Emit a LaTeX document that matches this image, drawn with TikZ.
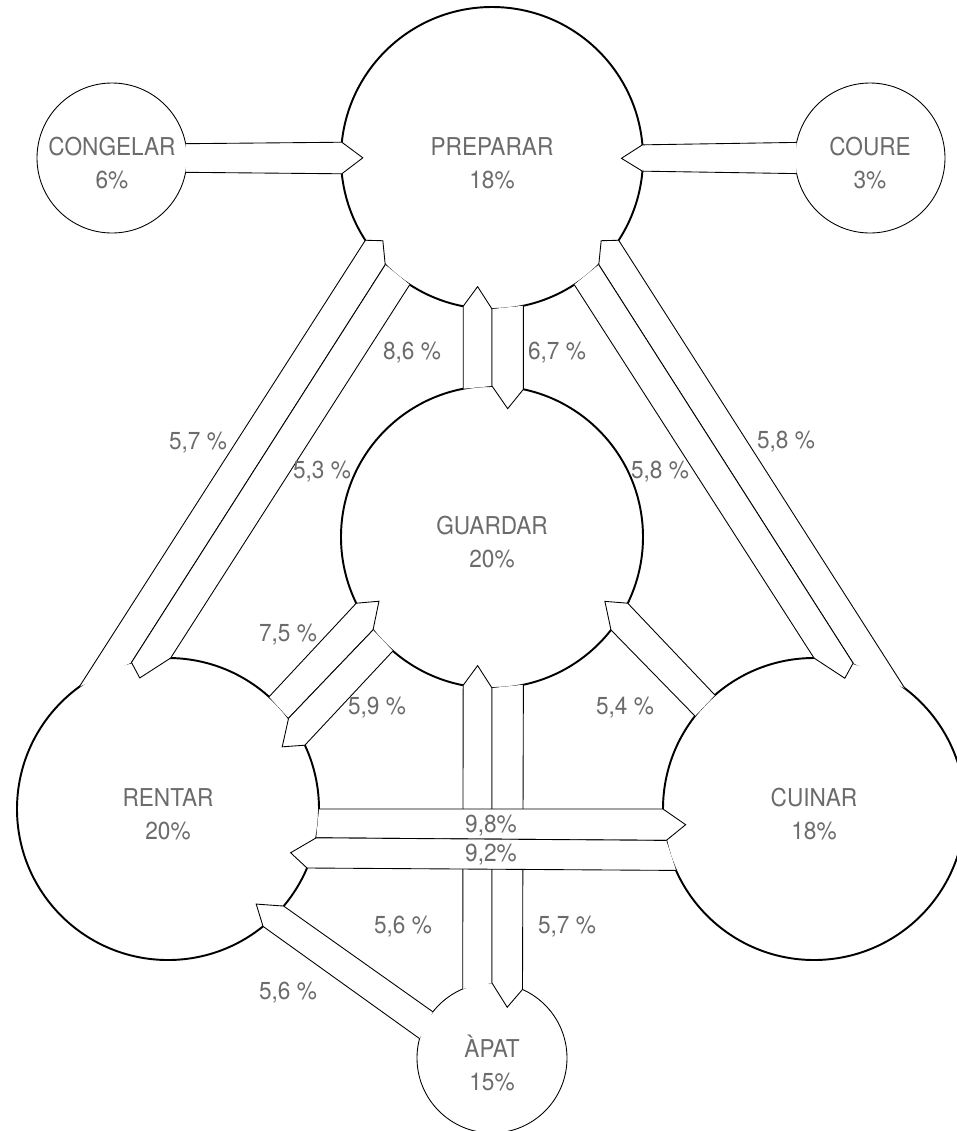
\documentclass[tikz,border=0pt]{standalone}
\usepackage{fontspec}
\setmainfont{TeX Gyre Heros}[FakeStretch=0.92]
\usetikzlibrary{calc}

\definecolor{txtgray}{gray}{0.42}

\newcommand\ribbon[5][4.2mm]{%
  \coordinate (mid) at ($#3!.5!#4$);
  \coordinate (fwd) at ($(mid)+#3-#2$);
  \coordinate (tip) at ($(mid)!#1!(fwd)$);
  \fill[white] #2 -- #3 -- (tip) -- #4 -- #5 -- cycle;
  \draw[band] #2 -- #3 -- (tip) -- #4 -- #5;
}

\begin{document}
\begin{tikzpicture}[x=0.2mm, y=-0.2mm,
                    stage/.style={circle, draw, line width=1.1pt, minimum size=60.4mm, inner sep=0pt, outer sep=0pt},
                    minor/.style={circle, draw, line width=0.5pt, minimum size=30mm, inner sep=0pt, outer sep=0pt},
                    band/.style={line width=0.5pt},
                    caption/.style={align=center, text=txtgray, font=\fontsize{14}{19}\selectfont},
                    pct/.style={text=txtgray, font=\fontsize{14}{17}\selectfont, inner sep=0pt}
                    ]
    \useasboundingbox (0,0) rectangle (956,1131);

    \node[stage] (prep)  at (492,158) {};
    \node[stage] (guard) at (492,537) {};
    \node[stage] (rent)  at (168,809) {};
    \node[stage] (cuin)  at (814,809) {};
    \node[minor] (cong)  at (112,158) {};
    \node[minor] (cour)  at (870,158) {};
    \node[minor] (apat)  at (492,1058) {};

    \ribbon{(cong.11.5)}{(prep.174.3)}{(prep.-174.3)}{(cong.-11.5)}
    \ribbon{(cour.168.5)}{(prep.5.7)}{(prep.-5.7)}{(cour.-168.5)}

    \ribbon{(guard.101.5)}{(prep.-101.5)}{(prep.-90)}{(guard.90)}
    \ribbon{(prep.-78.5)}{(guard.78.5)}{(guard.90)}{(prep.-90)}

    \ribbon[2.8mm]{(rent.126.6)}{(prep.213.7)}{(prep.225.6)}{(rent.104.7)}
    \ribbon{(prep.225.6)}{(rent.104.7)}{(rent.89.7)}{(prep.237.1)}
    \ribbon[2.8mm]{(cuin.53.4)}{(prep.-33.7)}{(prep.-45.6)}{(cuin.75.3)}
    \ribbon{(prep.-45.6)}{(cuin.75.3)}{(cuin.90.3)}{(prep.-57.1)}

    \ribbon{(rent.48.7)}{(guard.206.3)}{(guard.218)}{(rent.37.3)}
    \ribbon{(guard.218)}{(rent.37.3)}{(rent.25.5)}{(guard.229.5)}
    \ribbon{(cuin.131.3)}{(guard.-26.3)}{(guard.-38)}{(cuin.142.7)}

    \ribbon{(apat.113.6)}{(guard.-101.5)}{(guard.-90)}{(apat.90)}
    \ribbon{(guard.-78.5)}{(apat.66.4)}{(apat.90)}{(guard.-90)}
    \ribbon{(apat.142)}{(rent.-40.9)}{(rent.-51.9)}{(apat.165)}

    \ribbon{(rent.0)}{(cuin.180)}{(cuin.-168.5)}{(rent.-11.5)}
    \ribbon{(cuin.-168.5)}{(rent.-11.5)}{(rent.-23.4)}{(cuin.-156.6)}

    \node[caption] (prepT)  at ([yshift=-1mm]prep.center)  {PREPARAR\\18\%};
    \node[caption] (guardT) at ([yshift=-1mm]guard.center) {GUARDAR\\20\%};
    \node[caption] (rentT)  at ([yshift=-1mm]rent.center)  {RENTAR\\20\%};
    \node[caption] (cuinT)  at ([yshift=-1mm]cuin.center)  {CUINAR\\18\%};
    \node[caption] (congT)  at ([yshift=-1mm]cong.center)  {CONGELAR\\6\%};
    \node[caption] (courT)  at ([yshift=-1mm]cour.center)  {COURE\\3\%};
    \node[caption] (apatT)  at ([yshift=-1mm]apat.center)  {ÀPAT\\15\%};

    \node[pct] (l86)  at (412,353) {8,6 \%};
    \node[pct] (l67)  at (557,353) {6,7 \%};
    \node[pct] (l57a) at (198,443) {5,7 \%};
    \node[pct] (l53)  at (322,472) {5,3 \%};
    \node[pct] (l58a) at (660,472) {5,8 \%};
    \node[pct] (l58b) at (786,442) {5,8 \%};
    \node[pct] (l75)  at (288,635) {7,5 \%};
    \node[pct] (l59)  at (377,708) {5,9 \%};
    \node[pct] (l54)  at (625,708) {5,4 \%};
    \node[pct] (l98)  at (491,826) {9,8\%};
    \node[pct] (l92)  at (491,855) {9,2\%};
    \node[pct] (l56a) at (403,927) {5,6 \%};
    \node[pct] (l57b) at (567,927) {5,7 \%};
    \node[pct] (l56b) at (288,993) {5,6 \%};
\end{tikzpicture}
\end{document}
